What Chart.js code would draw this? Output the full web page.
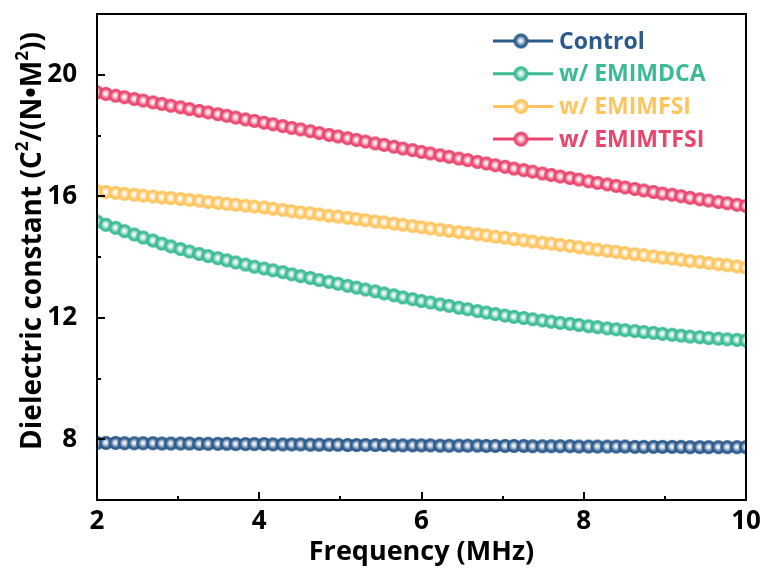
<!DOCTYPE html>
<html>
<head>
<meta charset="utf-8">
<script src="https://cdn.jsdelivr.net/npm/chart.js@4.4.1/dist/chart.umd.min.js"></script>
<style>
html, body { margin: 0; padding: 0; background: #fff; }
#wrap { width: 769px; height: 572px; }
</style>
</head>
<body>
<div id="wrap"><canvas id="chart" width="769" height="572"></canvas></div>
<script>
// Frequency sweep (MHz)
const freq = [2.00, 2.11, 2.23, 2.34, 2.46, 2.57, 2.69, 2.80, 2.91, 3.03,
    3.14, 3.26, 3.37, 3.49, 3.60, 3.71, 3.83, 3.94, 4.06, 4.17,
    4.29, 4.40, 4.51, 4.63, 4.74, 4.86, 4.97, 5.09, 5.20, 5.31,
    5.43, 5.54, 5.66, 5.77, 5.89, 6.00, 6.11, 6.23, 6.34, 6.46,
    6.57, 6.69, 6.80, 6.91, 7.03, 7.14, 7.26, 7.37, 7.49, 7.60,
    7.71, 7.83, 7.94, 8.06, 8.17, 8.29, 8.40, 8.51, 8.63, 8.74,
    8.86, 8.97, 9.09, 9.20, 9.31, 9.43, 9.54, 9.66, 9.77, 9.89, 10.00];

const control = [7.88, 7.88, 7.88, 7.87, 7.87, 7.87, 7.87, 7.86, 7.86, 7.86,
    7.86, 7.85, 7.85, 7.85, 7.85, 7.84, 7.84, 7.84, 7.84, 7.83,
    7.83, 7.83, 7.83, 7.82, 7.82, 7.82, 7.82, 7.81, 7.81, 7.81,
    7.81, 7.81, 7.80, 7.80, 7.80, 7.80, 7.80, 7.79, 7.79, 7.79,
    7.79, 7.79, 7.78, 7.78, 7.78, 7.78, 7.78, 7.77, 7.77, 7.77,
    7.77, 7.77, 7.76, 7.76, 7.76, 7.76, 7.76, 7.76, 7.75, 7.75,
    7.75, 7.75, 7.75, 7.75, 7.74, 7.74, 7.74, 7.74, 7.74, 7.74, 7.74];

const emimDCA = [15.17, 15.06, 14.96, 14.85, 14.74, 14.64, 14.54, 14.44, 14.35, 14.26,
    14.18, 14.10, 14.03, 13.96, 13.89, 13.82, 13.75, 13.68, 13.62, 13.56,
    13.50, 13.43, 13.37, 13.31, 13.24, 13.18, 13.12, 13.05, 12.99, 12.93,
    12.87, 12.80, 12.74, 12.67, 12.61, 12.55, 12.50, 12.44, 12.39, 12.33,
    12.28, 12.22, 12.17, 12.12, 12.07, 12.03, 11.99, 11.95, 11.91, 11.87,
    11.83, 11.80, 11.76, 11.72, 11.69, 11.65, 11.62, 11.59, 11.56, 11.53,
    11.50, 11.47, 11.44, 11.41, 11.38, 11.36, 11.33, 11.31, 11.29, 11.27, 11.25];

const emimFSI = [16.17, 16.14, 16.11, 16.08, 16.05, 16.02, 15.99, 15.96, 15.94, 15.91,
    15.88, 15.85, 15.81, 15.78, 15.75, 15.72, 15.69, 15.66, 15.63, 15.59,
    15.55, 15.51, 15.47, 15.44, 15.40, 15.36, 15.33, 15.29, 15.25, 15.21,
    15.17, 15.14, 15.10, 15.06, 15.02, 14.98, 14.94, 14.90, 14.86, 14.82,
    14.79, 14.75, 14.71, 14.67, 14.63, 14.59, 14.55, 14.51, 14.47, 14.44,
    14.40, 14.36, 14.32, 14.28, 14.24, 14.20, 14.17, 14.13, 14.09, 14.06,
    14.02, 13.98, 13.95, 13.91, 13.87, 13.84, 13.80, 13.76, 13.73, 13.69, 13.65];

const emimTFSI = [19.42, 19.37, 19.31, 19.26, 19.20, 19.15, 19.09, 19.04, 18.98, 18.93,
    18.87, 18.81, 18.76, 18.70, 18.65, 18.59, 18.53, 18.48, 18.42, 18.37,
    18.31, 18.25, 18.20, 18.14, 18.08, 18.02, 17.97, 17.91, 17.85, 17.80,
    17.74, 17.69, 17.63, 17.57, 17.52, 17.46, 17.41, 17.35, 17.30, 17.24,
    17.19, 17.13, 17.08, 17.02, 16.97, 16.91, 16.86, 16.81, 16.75, 16.70,
    16.65, 16.60, 16.55, 16.49, 16.44, 16.39, 16.34, 16.29, 16.24, 16.19,
    16.14, 16.09, 16.05, 16.00, 15.95, 15.90, 15.86, 15.81, 15.77, 15.72, 15.68];

const seriesNames = ['Control', 'w/ EMIMDCA', 'w/ EMIMFSI', 'w/ EMIMTFSI'];
const seriesValues = [control, emimDCA, emimFSI, emimTFSI];
const seriesColors = ['#2c5a8c', '#3bbb95', '#fec55f', '#e9466f'];

const xTicks = [2, 4, 6, 8, 10];
const xMinor = [3, 5, 7, 9];
const yTicks = [8, 12, 16, 20];
const yMinor = [10, 14, 18];

const FONT = '"Open Sans", "Noto Sans", sans-serif';

// shaded ball used as the point marker
function makeBall(color, r) {
    const c = document.createElement('canvas');
    const s = Math.ceil(r * 2 + 2);
    c.width = s;
    c.height = s;
    const g = c.getContext('2d');
    const cx = s / 2, cy = s / 2;
    g.fillStyle = color;
    g.beginPath();
    g.arc(cx, cy, r, 0, Math.PI * 2);
    g.fill();
    const grad = g.createRadialGradient(cx - 0.4, cy - 0.4, 0, cx, cy, r * 0.72);
    grad.addColorStop(0, 'rgba(255,255,255,1)');
    grad.addColorStop(0.3, 'rgba(255,255,255,0.85)');
    grad.addColorStop(1, 'rgba(255,255,255,0)');
    g.fillStyle = grad;
    g.beginPath();
    g.arc(cx, cy, r, 0, Math.PI * 2);
    g.fill();
    return c;
}

const balls = seriesColors.map(c => makeBall(c, 7));
const legendBalls = seriesColors.map(c => makeBall(c, 7.5));

// frame, inward ticks, y title and legend
const decorPlugin = {
    id: 'decor',
    afterDraw(chart) {
        const ctx = chart.ctx;
        const a = chart.chartArea;
        const xs = chart.scales.x, ys = chart.scales.y;
        ctx.save();
        ctx.strokeStyle = '#000';
        ctx.lineWidth = 2;
        ctx.strokeRect(a.left, a.top, a.right - a.left, a.bottom - a.top);

        ctx.beginPath();
        xTicks.forEach(v => {
            const px = Math.round(xs.getPixelForValue(v));
            ctx.moveTo(px, a.bottom); ctx.lineTo(px, a.bottom - 8);
        });
        xMinor.forEach(v => {
            const px = Math.round(xs.getPixelForValue(v));
            ctx.moveTo(px, a.bottom); ctx.lineTo(px, a.bottom - 4);
        });
        yTicks.forEach(v => {
            const py = Math.round(ys.getPixelForValue(v));
            ctx.moveTo(a.left, py); ctx.lineTo(a.left + 8, py);
        });
        yMinor.forEach(v => {
            const py = Math.round(ys.getPixelForValue(v));
            ctx.moveTo(a.left, py); ctx.lineTo(a.left + 4, py);
        });
        ctx.stroke();

        // y axis title with superscripts
        const parts = [['Dielectric constant (C', false], ['2', true], ['/(N\u2022M', false], ['2', true], ['))', false]];
        const big = 'bold 28px ' + FONT, small = 'bold 17px ' + FONT;
        let total = 0;
        parts.forEach(p => { ctx.font = p[1] ? small : big; total += ctx.measureText(p[0]).width; });
        ctx.translate(33, 241);
        ctx.rotate(-Math.PI / 2);
        ctx.fillStyle = '#000';
        ctx.textBaseline = 'middle';
        let x = -total / 2;
        parts.forEach(p => {
            ctx.font = p[1] ? small : big;
            ctx.fillText(p[0], x, p[1] ? -10 : 0);
            x += ctx.measureText(p[0]).width;
        });
        ctx.restore();

        // legend
        ctx.save();
        ctx.font = 'bold 23px ' + FONT;
        ctx.textBaseline = 'middle';
        seriesNames.forEach((name, i) => {
            const y = 41 + i * 32.7;
            ctx.strokeStyle = seriesColors[i];
            ctx.lineWidth = 3;
            ctx.beginPath();
            ctx.moveTo(493, y); ctx.lineTo(553, y);
            ctx.stroke();
            const b = legendBalls[i];
            ctx.drawImage(b, 521 - b.width / 2, y - b.height / 2);
            ctx.fillStyle = seriesColors[i];
            ctx.fillText(name, 559, y + 1);
        });
        ctx.restore();
    }
};

new Chart(document.getElementById('chart'), {
    type: 'line',
    data: {
        datasets: seriesValues.map((vals, i) => ({
            label: seriesNames[i],
            data: vals.map((v, j) => ({ x: freq[j], y: v })),
            borderColor: seriesColors[i],
            backgroundColor: seriesColors[i],
            borderWidth: 2,
            pointStyle: balls[i],
            pointRadius: 6,
            tension: 0,
            clip: 0
        }))
    },
    options: {
        responsive: false,
        animation: false,
        devicePixelRatio: 1,
        layout: { padding: { top: 14, right: 23, left: 0, bottom: 0 } },
        plugins: {
            legend: { display: false },
            tooltip: { enabled: false }
        },
        scales: {
            x: {
                type: 'linear',
                min: 2,
                max: 10,
                afterBuildTicks: s => { s.ticks = xTicks.map(v => ({ value: v })); },
                afterFit: s => { s.height = 72; s.paddingLeft = 0; s.paddingRight = 0; },
                grid: { display: false, drawTicks: false },
                border: { display: false },
                ticks: {
                    color: '#000',
                    padding: 6,
                    maxRotation: 0,
                    font: { family: FONT, size: 26, weight: 'bold' }
                },
                title: {
                    display: true,
                    text: 'Frequency (MHz)',
                    color: '#000',
                    padding: { top: 0, bottom: 3 },
                    font: { family: FONT, size: 27, weight: 'bold' }
                }
            },
            y: {
                min: 6,
                max: 22,
                afterBuildTicks: s => { s.ticks = yTicks.map(v => ({ value: v })); },
                afterFit: s => { s.width = 97; s.paddingTop = 0; s.paddingBottom = 0; },
                grid: { display: false, drawTicks: false },
                border: { display: false },
                ticks: {
                    color: '#000',
                    padding: 20,
                    font: { family: FONT, size: 26, weight: 'bold' }
                }
            }
        }
    },
    plugins: [decorPlugin]
});
</script>
</body>
</html>
